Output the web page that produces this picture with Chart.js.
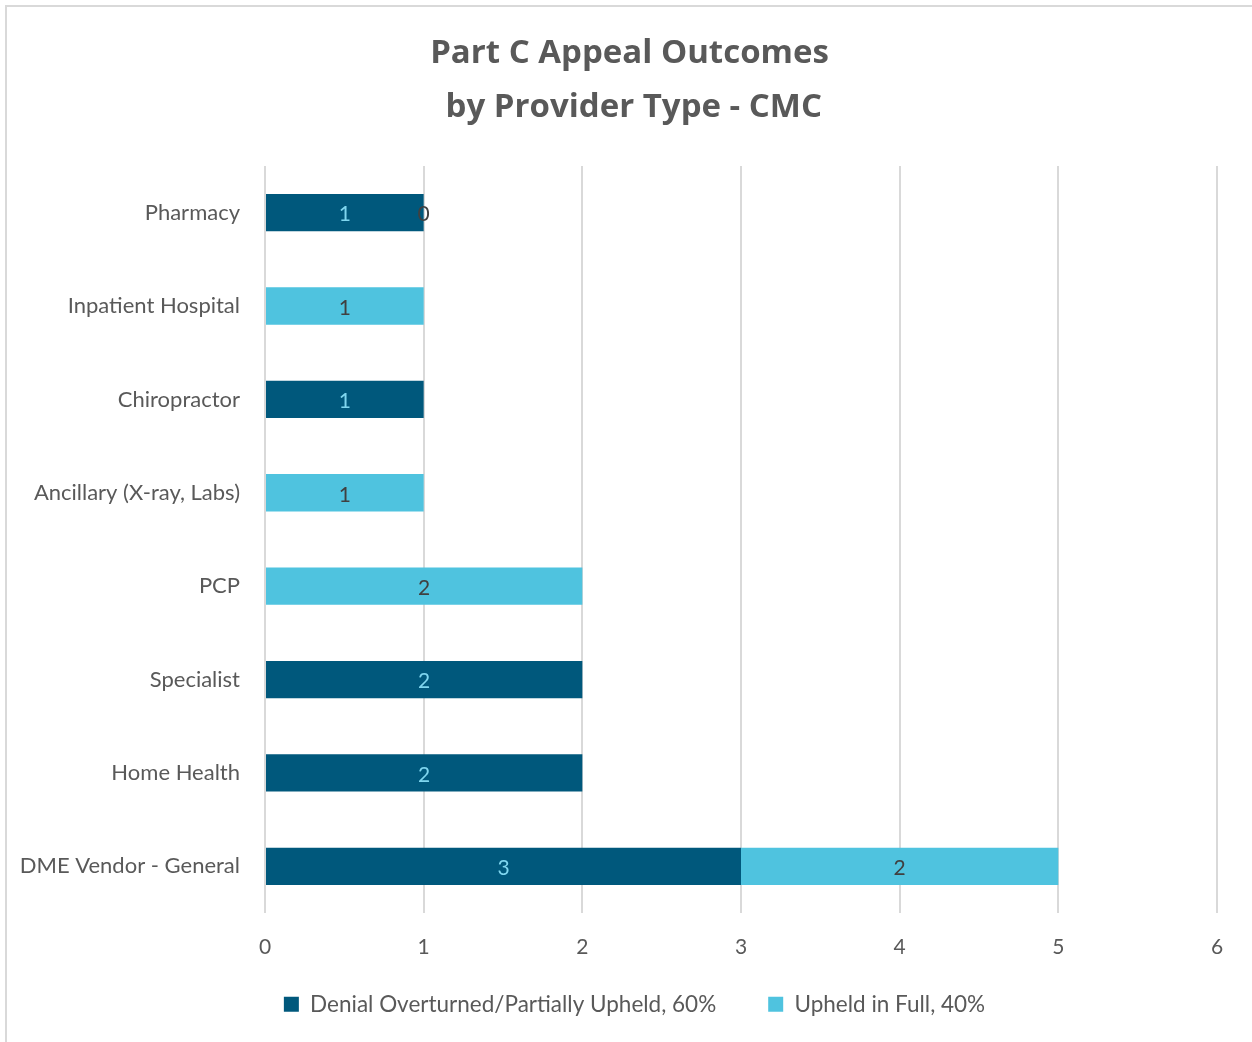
<!DOCTYPE html>
<html>
<head>
<meta charset="utf-8">
<script src="https://cdn.jsdelivr.net/npm/chart.js@4/dist/chart.umd.min.js"></script>
<style>
  body { margin: 0; background: #ffffff; }
  #frame { position: absolute; left: 5px; top: 5px; width: 1300px; height: 1100px;
           border-top: 2px solid #d9d9d9; border-left: 2px solid #d9d9d9; }
  #wrap { position: absolute; left: 0; top: 0; width: 1252px; height: 1042px; }
</style>
</head>
<body>
<div id="frame"></div>
<div id="wrap"><canvas id="appealChart" width="1252" height="1042"></canvas></div>
<script>
// provider types, top to bottom
const providerTypes = [
  "Pharmacy",
  "Inpatient Hospital",
  "Chiropractor",
  "Ancillary (X-ray, Labs)",
  "PCP",
  "Specialist",
  "Home Health",
  "DME Vendor - General"
];
// null = no bar / no label
const overturnedCounts = [1, null, 1, null, null, 2, 2, 3];
const upheldCounts = [0, 1, null, 1, 2, null, null, 2];
const xTicks = [0, 1, 2, 3, 4, 5, 6];

const darkBlue = "#00587c";
const lightBlue = "#4fc3df";
const textFont = 'Lato, "Source Sans Pro", sans-serif';

// draws the numbers in the middle of each segment
const segmentLabels = {
  id: "segmentLabels",
  afterDatasetsDraw(chart) {
    const ctx = chart.ctx;
    ctx.save();
    ctx.font = "21px " + textFont;
    ctx.textAlign = "center";
    ctx.textBaseline = "middle";
    chart.data.datasets.forEach((ds, i) => {
      const meta = chart.getDatasetMeta(i);
      meta.data.forEach((bar, j) => {
        const v = ds.data[j];
        if (v === null || v === undefined) return;
        ctx.fillStyle = ds.labelColor;
        ctx.fillText(String(v), (bar.x + bar.base) / 2, bar.y + 2);
      });
    });
    ctx.restore();
  }
};

// move title and legend to where they sit in the original
const boxPlace = {
  id: "boxPlace",
  afterLayout(chart) {
    const lg = chart.legend;
    const h = lg.height;
    lg.left = 17;
    lg.right = 1252;
    lg.top = 941;
    lg.bottom = 941 + h;
    const tb = chart.titleBlock;
    tb.left = 7;
    tb.right = 1252;
    tb.width = tb.right - tb.left;
  }
};

new Chart(document.getElementById("appealChart").getContext("2d"), {
  type: "bar",
  data: {
    labels: providerTypes,
    datasets: [
      {
        label: "Denial Overturned/Partially Upheld, 60%",
        data: overturnedCounts,
        backgroundColor: darkBlue,
        labelColor: "#7fd6ef",
        categoryPercentage: 0.8,
        barPercentage: 0.5
      },
      {
        label: "Upheld in Full, 40%",
        data: upheldCounts,
        backgroundColor: lightBlue,
        labelColor: "#404040",
        categoryPercentage: 0.8,
        barPercentage: 0.5
      }
    ]
  },
  options: {
    indexAxis: "y",
    responsive: false,
    animation: false,
    layout: { padding: { left: 0, right: 35, top: 0, bottom: 0 } },
    scales: {
      x: {
        stacked: true,
        min: 0,
        max: 6,
        afterBuildTicks: (scale) => { scale.ticks = xTicks.map((v) => ({ value: v })); },
        afterFit: (scale) => { scale.height = 45; },
        grid: { color: "#d9d9d9", lineWidth: 2, drawTicks: false },
        border: { display: false },
        ticks: { color: "#595959", padding: 22, font: { size: 21, family: textFont } }
      },
      y: {
        stacked: true,
        afterFit: (scale) => { scale.width = 265; },
        grid: { display: false, drawTicks: false },
        border: { display: false },
        ticks: { color: "#595959", padding: 25, font: { size: 22, family: textFont } }
      }
    },
    plugins: {
      title: {
        display: true,
        text: ["Part C Appeal Outcomes", " by Provider Type - CMC"],
        color: "#595959",
        font: { size: 33, weight: "bold", family: '"Open Sans", sans-serif', lineHeight: 1.636 },
        padding: { top: 27, bottom: 31 }
      },
      legend: {
        position: "bottom",
        maxHeight: 84,
        labels: {
          color: "#595959",
          boxWidth: 15,
          boxHeight: 15,
          padding: 52,
          font: { size: 22.5, family: textFont }
        }
      },
      tooltip: { enabled: false }
    }
  },
  plugins: [segmentLabels, boxPlace]
});
</script>
</body>
</html>
